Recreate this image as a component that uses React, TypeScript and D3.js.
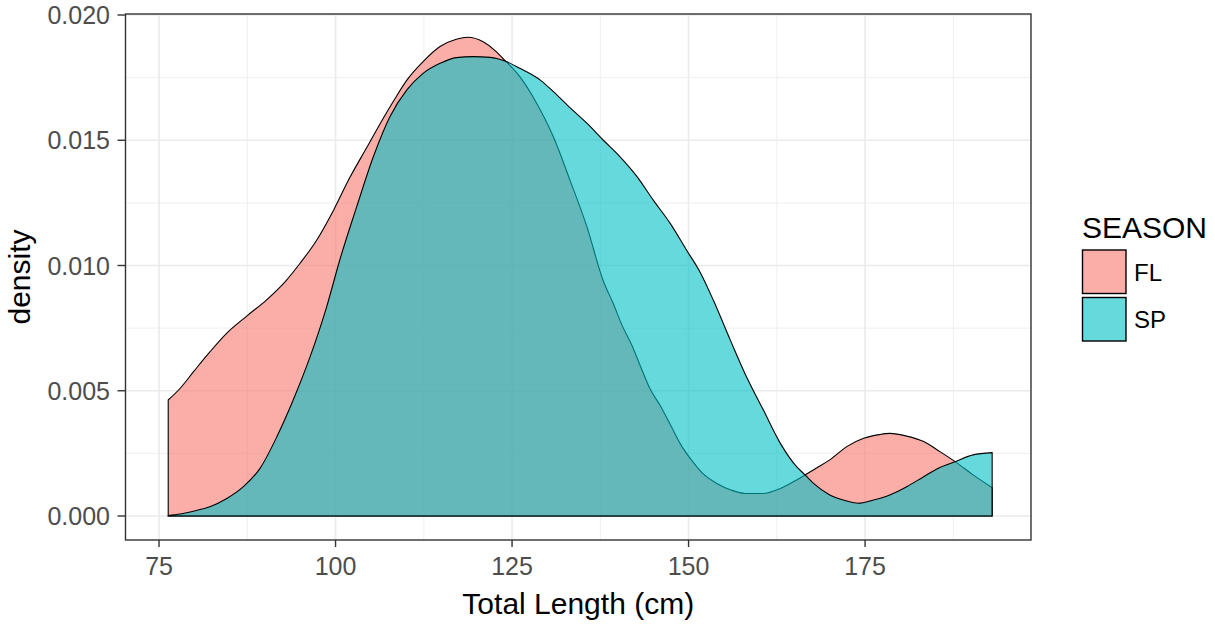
import React from "react";
import * as d3 from "d3";

const FL_X = [76.3, 78, 80, 82.2, 84.6, 87.5, 90.2, 93, 95, 97.3, 99.7, 102, 104.4, 106.8, 108.5, 110.1, 112.4, 114.8, 117.1, 118.8, 120.9, 122.8, 123.7, 126.1, 128.5, 130.85, 133.2, 135.6, 137.9, 139.3, 140.6, 142, 143.3, 144.5, 146, 147.5, 149, 150.5, 152, 154, 156, 158, 160.6, 163, 165.3, 166.5, 168, 170, 172.4, 174.8, 177, 178.5, 180.9, 183.3, 185.6, 187.75, 190.3, 193];
const FL_Y = [0.00463, 0.0051, 0.0058, 0.00655, 0.0073, 0.008, 0.00862, 0.0094, 0.0101, 0.011, 0.0122, 0.0135, 0.0147, 0.0159, 0.0167, 0.0174, 0.01814, 0.01874, 0.01903, 0.01911, 0.01893, 0.01853, 0.01827, 0.01754, 0.01647, 0.01514, 0.01341, 0.01155, 0.0094, 0.0085, 0.0076, 0.0068, 0.0059, 0.0051, 0.0044, 0.0036, 0.0028, 0.0022, 0.0017, 0.0013, 0.00104, 0.0009, 0.0009, 0.0011, 0.00144, 0.00164, 0.0019, 0.00224, 0.00277, 0.0031, 0.00325, 0.0033, 0.00319, 0.00297, 0.00257, 0.00217, 0.00164, 0.00113];

const SP_X = [76.3, 78, 80, 82.2, 84.6, 86.95, 89.3, 91.7, 94, 96.4, 98.75, 100.6, 103, 105.35, 107.7, 110.1, 112.4, 114.8, 117.1, 119.5, 121.9, 124.2, 126.1, 129, 130.85, 133.2, 135.6, 137.9, 140.3, 142.7, 145, 147.4, 149.7, 151.6, 153.5, 155.9, 158.2, 160.6, 163, 165.3, 166.5, 167.7, 170, 172.4, 174, 176.2, 178.5, 180.9, 183.3, 185.6, 187.75, 190.3, 193];
const SP_Y = [0.00002, 0.00008, 0.0002, 0.00037, 0.0007, 0.00117, 0.0019, 0.00317, 0.00463, 0.00636, 0.00836, 0.01022, 0.01235, 0.01434, 0.01594, 0.01701, 0.01767, 0.01807, 0.0183, 0.01834, 0.01831, 0.01814, 0.01787, 0.0174, 0.01694, 0.0163, 0.01568, 0.01501, 0.01434, 0.01355, 0.01261, 0.01168, 0.01062, 0.00975, 0.00862, 0.00703, 0.00556, 0.00423, 0.0029, 0.00197, 0.00164, 0.0013, 0.00084, 0.0006, 0.00051, 0.00064, 0.00084, 0.00117, 0.00157, 0.00194, 0.00217, 0.00244, 0.00253];

const SEASONS = ["FL", "SP"];
const COLORS = ["#F8766D", "#00BFC4"];
const X_TICKS = [75, 100, 125, 150, 175];
const X_MINOR = [87.5, 112.5, 137.5, 162.5, 187.5];
const Y_TICKS = [0, 0.005, 0.01, 0.015, 0.02];
const Y_MINOR = [0.0025, 0.0075, 0.0125, 0.0175];

const W = 1215;
const H = 626;
const PL = 125.5, PR = 1031, PT = 14, PB = 540;

export default function App() {
  const x = d3.scaleLinear().domain([70.25, 198.5]).range([PL, PR]);
  const y = d3.scaleLinear().domain([-0.000958, 0.02004]).range([PB, PT]);
  const series = [
    FL_X.map((v, i) => [v, FL_Y[i]] as [number, number]),
    SP_X.map((v, i) => [v, SP_Y[i]] as [number, number]),
  ];
  const area = d3
    .area<[number, number]>()
    .x((d) => x(d[0]))
    .y0(() => y(0))
    .y1((d) => y(d[1]))
    .curve(d3.curveMonotoneX);

  const font = "'Liberation Sans', Arial, Helvetica, sans-serif";
  return (
    <svg width={W} height={H} style={{ position: "absolute", left: 0, top: 0, background: "#fff" }} fontFamily={font}>
      <rect x={0} y={0} width={W} height={H} fill="#fff" />
      {/* grid */}
      {X_MINOR.map((v) => (
        <line key={"xm" + v} x1={x(v)} x2={x(v)} y1={PT} y2={PB} stroke="#EBEBEB" strokeWidth={0.8} />
      ))}
      {Y_MINOR.map((v) => (
        <line key={"ym" + v} x1={PL} x2={PR} y1={y(v)} y2={y(v)} stroke="#EBEBEB" strokeWidth={0.8} />
      ))}
      {X_TICKS.map((v) => (
        <line key={"xg" + v} x1={x(v)} x2={x(v)} y1={PT} y2={PB} stroke="#EBEBEB" strokeWidth={1.6} />
      ))}
      {Y_TICKS.map((v) => (
        <line key={"yg" + v} x1={PL} x2={PR} y1={y(v)} y2={y(v)} stroke="#EBEBEB" strokeWidth={1.6} />
      ))}
      {/* densities */}
      {series.map((s, i) => {
        const d = area(s) as string;
        return (
          <path key={SEASONS[i]} d={d + "Z"} fill={COLORS[i]} fillOpacity={0.6} stroke="#000" strokeWidth={1.1} strokeLinejoin="round" />
        );
      })}
      {/* panel border */}
      <rect x={PL} y={PT} width={PR - PL} height={PB - PT} fill="none" stroke="#333333" strokeWidth={1.4} />
      {/* x axis */}
      {X_TICKS.map((v) => (
        <g key={"xt" + v}>
          <line x1={x(v)} x2={x(v)} y1={PB} y2={PB + 7} stroke="#333333" strokeWidth={1.4} />
          <text x={x(v)} y={575} textAnchor="middle" fontSize={25} fill="#4D4D4D">
            {v}
          </text>
        </g>
      ))}
      {Y_TICKS.map((v) => (
        <g key={"yt" + v}>
          <line x1={PL - 8} x2={PL} y1={y(v)} y2={y(v)} stroke="#333333" strokeWidth={1.4} />
          <text x={110} y={y(v)} dy="0.36em" textAnchor="end" fontSize={25} fill="#4D4D4D">
            {d3.format(".3f")(v)}
          </text>
        </g>
      ))}
      <text x={(PL + PR) / 2} y={614} textAnchor="middle" fontSize={30} fill="#000">
        Total Length (cm)
      </text>
      <text transform={`translate(30, ${(PT + PB) / 2}) rotate(-90)`} textAnchor="middle" fontSize={30} fill="#000">
        density
      </text>
      {/* legend */}
      <text x={1082} y={238} fontSize={30} fill="#000">SEASON</text>
      {SEASONS.map((s, i) => (
        <g key={"lg" + s}>
          <rect x={1082.5} y={250 + i * 47.5} width={43.5} height={43.5} fill={COLORS[i]} fillOpacity={0.6} stroke="#000" strokeWidth={1.4} />
          <text x={1134} y={250 + i * 47.5 + 22} dy="0.36em" fontSize={24} fill="#000">
            {s}
          </text>
        </g>
      ))}
    </svg>
  );
}
